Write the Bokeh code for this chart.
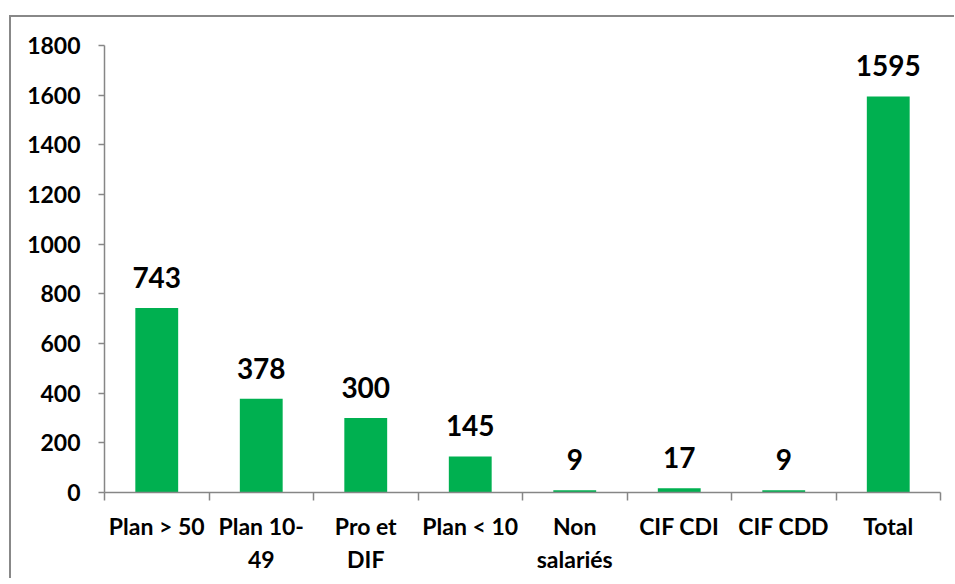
from bokeh.plotting import figure
from bokeh.models import Range1d, FixedTicker, ColumnDataSource, LabelSet
from bokeh.core.properties import value
from bokeh.embed import file_html
from bokeh.resources import INLINE

categories = ["Plan > 50", "Plan 10-\n49", "Pro et\nDIF", "Plan < 10", "Non\nsalariés", "CIF CDI", "CIF CDD", "Total"]
values = [743, 378, 300, 145, 9, 17, 9, 1595]
y_ticks = [0, 200, 400, 600, 800, 1000, 1200, 1400, 1600, 1800]

GREEN = "#00B050"
GRAY = "#868686"
FONT = "Lato"

n = len(categories)
centers = [i + 0.5 for i in range(n)]
src = ColumnDataSource(dict(x=centers, top=values, lab=[str(v) for v in values]))

p = figure(frame_width=836, frame_height=447, output_backend="svg", toolbar_location=None,
           x_range=Range1d(0, n), y_range=Range1d(0, 1800),
           min_border_left=93, min_border_right=14, min_border_top=28, min_border_bottom=86)
p.styles = {"border-top": "2px solid #888888", "border-left": "2px solid #888888",
            "margin-top": "15px", "margin-left": "9px"}
p.outline_line_color = None
p.xgrid.visible = False
p.ygrid.visible = False
p.background_fill_color = "white"
p.border_fill_color = "white"

p.vbar(x="x", top="top", width=0.41, bottom=0, source=src, fill_color=GREEN, line_color=None)

labels = LabelSet(x="x", y="top", text="lab", source=src, text_align="center",
                  text_baseline="alphabetic", y_offset=20, text_font=value(FONT),
                  text_font_style="bold", text_font_size="28px", text_color="black")
p.add_layout(labels)

# x axis
xa = p.xaxis[0]
xa.ticker = FixedTicker(ticks=centers, minor_ticks=list(range(n + 1)))
xa.major_label_overrides = {c: lab for c, lab in zip(centers, categories)}
xa.major_tick_line_color = None
xa.major_tick_out = 0
xa.major_tick_in = 0
xa.minor_tick_line_color = GRAY
xa.minor_tick_line_width = 1.5
xa.minor_tick_in = 0
xa.minor_tick_out = 8
xa.axis_line_color = GRAY
xa.axis_line_width = 1.5
xa.major_label_standoff = 11
xa.major_label_text_font = FONT
xa.major_label_text_font_style = "bold"
xa.major_label_text_font_size = "23px"
xa.major_label_text_color = "black"
xa.major_label_text_line_height = 1.2

# y axis
ya = p.yaxis[0]
ya.ticker = FixedTicker(ticks=y_ticks)
ya.minor_tick_line_color = None
ya.major_tick_line_color = GRAY
ya.major_tick_line_width = 1.5
ya.major_tick_in = 0
ya.major_tick_out = 6
ya.axis_line_color = GRAY
ya.axis_line_width = 1.5
ya.major_label_standoff = 18
ya.major_label_text_font = FONT
ya.major_label_text_font_style = "bold"
ya.major_label_text_font_size = "23px"
ya.major_label_text_color = "black"

open("out.html", "w").write(file_html(p, INLINE))
